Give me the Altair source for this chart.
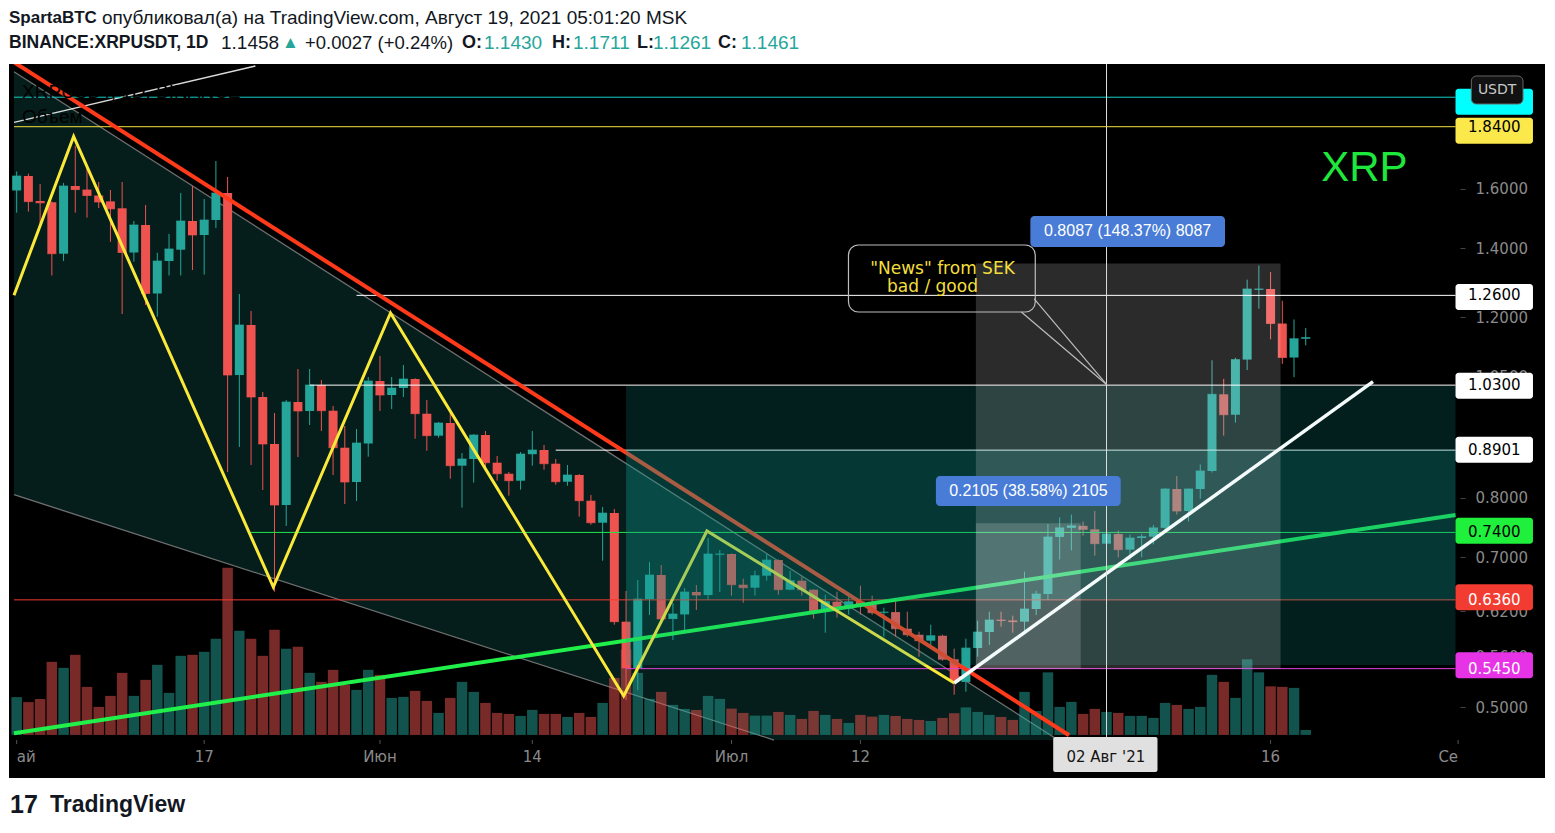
import altair as alt
import pandas as pd

# ---------------- data: BINANCE XRPUSDT 1D, day index 0 = 2021-05-01 ... 110 = 2021-08-19
opens = [
    1.5945, 1.6473, 1.5575, 1.5530, 1.3835, 1.6107, 1.5977, 1.5767, 1.5560, 1.5320,
    1.3873, 1.4757, 1.2653, 1.3610, 1.3960, 1.4890, 1.4429, 1.4923, 1.5856, 1.0537,
    1.1789, 1.0029, 0.9025, 0.7870, 0.9917, 0.9719, 1.0303, 0.9725, 0.8950, 0.8287,
    0.9035, 1.0396, 1.0074, 1.0234, 1.0443, 0.9660, 0.9195, 0.9460, 0.8596, 0.8726,
    0.9209, 0.8654, 0.8442, 0.8311, 0.8820, 0.8904, 0.8634, 0.8292, 0.8418, 0.7946,
    0.7563, 0.7729, 0.6056, 0.5458, 0.6372, 0.6725, 0.6093, 0.6155, 0.6473, 0.6429,
    0.7040, 0.7050, 0.6580, 0.6536, 0.6715, 0.6955, 0.6507, 0.6640, 0.6507, 0.6193,
    0.6334, 0.6236, 0.6334, 0.6291, 0.6179, 0.6188, 0.5961, 0.5881, 0.5803, 0.5868,
    0.5566, 0.5290, 0.5708, 0.5917, 0.6083, 0.6072, 0.6056, 0.6231, 0.6444, 0.7325,
    0.7476, 0.7510, 0.7451, 0.7215, 0.7373, 0.7119, 0.7308, 0.7329, 0.7476, 0.8158,
    0.7764, 0.8158, 0.8494, 1.0090, 0.9638, 1.0908, 1.2760, 1.2782, 1.1828, 1.0959,
    1.1430]
highs = [
    1.6644, 1.6557, 1.6179, 1.5560, 1.6219, 1.7633, 1.6745, 1.6252, 1.5963, 1.6252,
    1.4890, 1.5434, 1.3866, 1.4461, 1.5856, 1.6107, 1.5644, 1.7037, 1.6436, 1.2639,
    1.2166, 1.0142, 0.9675, 0.9962, 1.0680, 1.0680, 1.0419, 0.9829, 0.9398, 0.9334,
    1.0490, 1.0996, 1.0490, 1.0777, 1.0460, 0.9962, 0.9482, 0.9719, 0.8844, 0.9225,
    0.9292, 0.8785, 0.8475, 0.8864, 0.9292, 0.9005, 0.8726, 0.8609, 0.8437, 0.8049,
    0.7835, 0.7800, 0.6488, 0.6650, 0.6924, 0.6878, 0.6315, 0.6532, 0.6576, 0.7308,
    0.7113, 0.7060, 0.6670, 0.6790, 0.7050, 0.6965, 0.6790, 0.6699, 0.6512, 0.6434,
    0.6478, 0.6420, 0.6565, 0.6420, 0.6249, 0.6334, 0.6193, 0.5921, 0.6015, 0.5881,
    0.5700, 0.5829, 0.6069, 0.6193, 0.6193, 0.6138, 0.6775, 0.6492, 0.7541, 0.7654,
    0.7702, 0.7582, 0.7764, 0.7440, 0.7433, 0.7364, 0.7373, 0.7524, 0.8170, 0.8399,
    0.8165, 0.8619, 1.0891, 1.0445, 1.0952, 1.3054, 1.3471, 1.3281, 1.2450, 1.1936,
    1.1711]
lows = [
    1.5170, 1.5207, 1.4809, 1.3174, 1.3610, 1.5170, 1.5001, 1.5330, 1.4210, 1.2084,
    1.3589, 1.2330, 1.2011, 1.3174, 1.3174, 1.3338, 1.3198, 1.4658, 0.8475, 0.8964,
    0.8609, 0.8139, 0.6479, 0.7507, 0.8765, 0.9418, 0.9292, 0.8418, 0.7887, 0.7941,
    0.8771, 0.9719, 0.9763, 1.0029, 0.9133, 0.8890, 0.9154, 0.8349, 0.7823, 0.8274,
    0.8500, 0.8311, 0.8036, 0.8145, 0.8596, 0.8519, 0.8237, 0.8218, 0.7666, 0.7529,
    0.6944, 0.6015, 0.5079, 0.5195, 0.6147, 0.6051, 0.5812, 0.5944, 0.6217, 0.6358,
    0.6473, 0.6420, 0.6319, 0.6420, 0.6640, 0.6434, 0.6500, 0.6420, 0.6097, 0.5908,
    0.6111, 0.6152, 0.6152, 0.6152, 0.5855, 0.5855, 0.5855, 0.5598, 0.5725, 0.5548,
    0.5140, 0.5175, 0.5598, 0.5747, 0.5988, 0.5908, 0.5921, 0.6147, 0.6358, 0.6963,
    0.7107, 0.7345, 0.7023, 0.7113, 0.6996, 0.6963, 0.6996, 0.7203, 0.7433, 0.7702,
    0.7582, 0.7980, 0.8465, 0.9195, 0.9467, 1.0654, 1.2229, 1.1416, 1.0805, 1.0488,
    1.1261]
closes = [
    1.6473, 1.5552, 1.5510, 1.3835, 1.6107, 1.5977, 1.5767, 1.5538, 1.5300, 1.3873,
    1.4757, 1.2653, 1.3610, 1.3983, 1.4890, 1.4429, 1.4923, 1.5856, 1.0537, 1.1789,
    1.0029, 0.9025, 0.7870, 0.9917, 0.9719, 1.0303, 0.9725, 0.8950, 0.8287, 0.9045,
    1.0396, 1.0074, 1.0234, 1.0443, 0.9660, 0.9195, 0.9460, 0.8596, 0.8726, 0.9209,
    0.8654, 0.8442, 0.8311, 0.8824, 0.8904, 0.8634, 0.8292, 0.8418, 0.7946, 0.7563,
    0.7729, 0.6056, 0.5458, 0.6372, 0.6725, 0.6093, 0.6161, 0.6473, 0.6429, 0.7050,
    0.7050, 0.6580, 0.6536, 0.6715, 0.6955, 0.6507, 0.6640, 0.6507, 0.6193, 0.6334,
    0.6236, 0.6334, 0.6291, 0.6179, 0.6188, 0.5961, 0.5881, 0.5803, 0.5868, 0.5566,
    0.5304, 0.5708, 0.5917, 0.6079, 0.6072, 0.6056, 0.6231, 0.6444, 0.7325, 0.7476,
    0.7510, 0.7451, 0.7215, 0.7373, 0.7119, 0.7308, 0.7329, 0.7476, 0.8158, 0.7764,
    0.8158, 0.8494, 1.0090, 0.9638, 1.0908, 1.2782, 1.2782, 1.1828, 1.0959, 1.1431,
    1.1461]
volumes = [  # millions XRP
    378, 328, 359, 730, 670, 800, 480, 280, 390, 620,
    390, 550, 700, 420, 790, 800, 830, 960, 1670, 1040,
    960, 790, 1050, 860, 880, 620, 530, 650, 500, 450,
    650, 600, 370, 380, 440, 340, 220, 370, 530, 430,
    320, 220, 210, 190, 250, 210, 210, 180, 220, 180,
    320, 570, 850, 620, 360, 430, 300, 260, 250, 390,
    360, 263, 220, 193, 193, 230, 200, 160, 240, 200,
    160, 120, 200, 183, 200, 190, 160, 150, 140, 170,
    217, 275, 230, 200, 180, 150, 430, 240, 625, 280,
    330, 210, 260, 230, 220, 190, 190, 170, 320, 300,
    260, 280, 600, 530, 370, 755, 625, 485, 480, 470,
    50]
days = list(range(len(closes)))

# time-axis ticks (day index) and their visible labels (edge labels are cut in the original;
# the Aug-1 label sits under the crosshair date box)
x_tick_days = [0, 16, 31, 44, 61, 72, 92, 107, 123]
x_tick_labels = ["ай", "17", "Июн", "14", "Июл", "12", "", "16", "Се"]
y_ticks = [0.5, 0.56, 0.62, 0.7, 0.8, 1.05, 1.2, 1.4, 1.6, 1.8]

# horizontal price levels (drawn lines with price labels)
level_names = ["cyan", "yellow", "w1", "w2", "w3", "green", "red", "magenta"]
level_prices = [1.966, 1.84, 1.26, 1.03, 0.8901, 0.74, 0.636, 0.545]
level_text = ["", "1.8400", "1.2600", "1.0300", "0.8901", "0.7400", "0.6360", "0.5450"]
level_from_day = [-0.229, -0.229, 29, 25, 46, 20, -0.229, 52]

# drawings (anchored at day index / price)
wedge_top_days, wedge_top_prices = [-0.229, 88.87], [2.0820, 0.4643]
wedge_bot_days, wedge_bot_prices = [-0.229, 64.62], [0.8054, 0.4643]
chan_days, chan_top, chan_bot = [-0.229, 64.62, 88.87], [2.0820, 0.6982, 0.4643], [0.8054, 0.4643, 0.4643]
red_days, red_prices = [-0.229, 89.80], [2.1267, 0.4693]
green_days, green_prices = [-0.229, 122.78], [0.4715, 0.7695]
thin_days, thin_prices = [-0.229, 20.37], [1.8576, 2.1087]
zig_days = [-0.229, 4.86, 21.9, 31.9, 51.8, 58.9, 80.0]
zig_prices = [1.2602, 1.8001, 0.6546, 1.2111, 0.5125, 0.7424, 0.5277]
white_days, white_prices = [80.0, 115.74], [0.5277, 1.0380]
crosshair_day = 93

# ---------------- scales / helpers
TEAL, RED = "#26a69a", "#ef5350"
X_DOMAIN = [-0.229, 129.99]
Y_DOMAIN = [0.42635, 2.1182]
AXIS_END = 122.78          # day index where the price-axis panel starts
PANE_BOTTOM = 0.4643       # price at the top edge of the time-axis strip
TICK_END = 0.4602
TIME_LABEL_P = 0.4469      # price level of the time-axis label row
xs = alt.Scale(domain=X_DOMAIN, nice=False, zero=False)
ys = alt.Scale(type="log", domain=Y_DOMAIN, nice=False)


def xf(f):
    return alt.X(f"{f}:Q", scale=xs, axis=None)


def yf(f):
    return alt.Y(f"{f}:Q", scale=ys, axis=None)


def xd(v):
    return alt.X(datum=v, type="quantitative", scale=xs, axis=None)


def yd(v):
    return alt.Y(datum=v, type="quantitative", scale=ys, axis=None)


def polyline(ds, ps, color, width, opacity=1.0):
    d = pd.DataFrame({"d": ds, "p": ps, "k": list(range(len(ds)))})
    return alt.Chart(d).mark_line(color=color, strokeWidth=width, opacity=opacity, clip=True).encode(
        x=xf("d"), y=yf("p"), order="k:Q")


def box(d0, d1, p0, p1, **mk):
    d = pd.DataFrame({"d0": [d0], "d1": [d1], "p0": [p0], "p1": [p1]})
    return alt.Chart(d).mark_rect(clip=True, **mk).encode(x=xf("d0"), x2="d1:Q", y=yf("p0"), y2="p1:Q")


def label(dv, pv, text, **mk):
    d = pd.DataFrame({"d": [dv], "p": [pv], "t": [text]})
    return alt.Chart(d).mark_text(**mk).encode(x=xf("d"), y=yf("p"), text="t:N")


def ptext(text, x, y, **mk):
    d = pd.DataFrame({"t": [text]})
    return alt.Chart(d).mark_text(align="left", baseline="middle", **mk).encode(
        x=alt.value(x), y=alt.value(y), text="t:N")


df = pd.DataFrame({"d": days, "o": opens, "h": highs, "l": lows, "c": closes, "v": volumes})
df["dir"] = ["up" if c >= o else "down" for o, c in zip(opens, closes)]
dir_color = alt.Color("dir:N", scale=alt.Scale(domain=["up", "down"], range=[TEAL, RED]), legend=None)

y_axis = alt.Axis(orient="right", offset=-85, values=y_ticks, format=".4f", grid=False, domain=False,
                  tickSize=5, tickColor="#444444", labelColor="#8a8a8a", labelFont="DejaVu Sans",
                  labelFontSize=15, labelPadding=10, labelOverlap=False, title=None)

layers = []

# channel (falling wedge) fill and borders
chan = pd.DataFrame({"d": chan_days, "top": chan_top, "bot": chan_bot})
layers.append(alt.Chart(chan).mark_area(color="#051d1b", clip=True).encode(
    x=xf("d"), y=yf("top"), y2="bot:Q"))
layers.append(polyline(wedge_top_days, wedge_top_prices, "#8a8a8a", 1.3, 0.8))
layers.append(polyline(wedge_bot_days, wedge_bot_prices, "#8a8a8a", 1.3, 0.8))
layers.append(polyline(thin_days, thin_prices, "#ffffff", 1.3, 0.85))

# volume
layers.append(alt.Chart(df).mark_bar(width=10.5, opacity=0.5, clip=True).encode(
    x=xf("d"),
    y=alt.Y("v:Q", scale=alt.Scale(domain=[-430, 6700], nice=False, zero=False), axis=None, stack=None),
    y2=alt.Y2(datum=0),
    color=dir_color))

# candles
layers.append(alt.Chart(df).mark_rule(strokeWidth=1, clip=True).encode(
    x=xf("d"), y=yf("l"), y2="h:Q", color=dir_color))
layers.append(alt.Chart(df).mark_bar(width=9, clip=True).encode(
    x=xf("d"),
    y=alt.Y("o:Q", scale=ys, axis=y_axis),
    y2="c:Q", color=dir_color))
layers.append(alt.Chart(df).mark_tick(orient="horizontal", size=9, thickness=1, clip=True).encode(
    x=xf("d"), y=yf("c"), color=dir_color))

# time axis: ticks and labels
xt = pd.DataFrame({"d": x_tick_days, "t": x_tick_labels})
layers.append(alt.Chart(xt).mark_rule(color="#555555", strokeWidth=1).encode(
    x=xf("d"), y=yd(PANE_BOTTOM), y2=alt.Y2(datum=TICK_END)))
tfont = dict(font="DejaVu Sans", fontSize=15, color="#8a8a8a", baseline="middle")
mid = xt.iloc[1:-1]
mid = mid[mid["t"] != ""]
layers.append(alt.Chart(mid).mark_text(align="center", **tfont).encode(
    x=xf("d"), y=yd(TIME_LABEL_P), text="t:N"))
layers.append(alt.Chart(xt.iloc[:1]).mark_text(align="left", **tfont).encode(
    x=xf("d"), y=yd(TIME_LABEL_P), text="t:N"))
layers.append(alt.Chart(xt.iloc[-1:]).mark_text(align="right", **tfont).encode(
    x=xf("d"), y=yd(TIME_LABEL_P), text="t:N"))

# horizontal levels
lv = pd.DataFrame({"name": level_names, "p": level_prices, "x0": level_from_day, "txt": level_text})
rule_colors = ["#14cfc8", "#f5e23a", "#ffffff", "#ffffff", "#ffffff", "#22e84a", "#f23b30", "#e040e0"]
box_colors = ["#00ffff", "#fbe84a", "#ffffff", "#ffffff", "#ffffff", "#1ef03c", "#f23c32", "#e633e6"]
txt_colors = ["#000000", "#000000", "#000000", "#000000", "#000000", "#000000", "#ffffff", "#ffffff"]
layers.append(alt.Chart(lv).mark_rule(strokeWidth=1, clip=True).encode(
    x=xf("x0"), x2=alt.X2(datum=AXIS_END), y=yf("p"),
    color=alt.Color("name:N", scale=alt.Scale(domain=level_names, range=rule_colors), legend=None)))

# trend lines
layers.append(polyline(red_days, red_prices, "#ff3a1a", 4))
layers.append(polyline(green_days, green_prices, "#22f04a", 4))
layers.append(polyline(zig_days, zig_prices, "#fbe93a", 3))

# teal zone rectangles
layers.append(box(52, AXIS_END, 0.5495, 1.028, color="#0e9c92", opacity=0.2))
layers.append(box(52, AXIS_END, 0.636, 0.8901, color="#0e9c92", opacity=0.2))

# price-range measurements
layers.append(box(81.85, 107.85, 0.545, 1.3537, color="#ffffff", opacity=0.17))
layers.append(box(81.85, 90.8, 0.545, 0.7555, color="#ffffff", opacity=0.17))

layers.append(polyline(white_days, white_prices, "#f4fbfb", 3.5))

# crosshair
layers.append(alt.Chart(pd.DataFrame({"d": [crosshair_day]})).mark_rule(color="#dddddd", strokeWidth=1).encode(
    x=xf("d"), y=yd(Y_DOMAIN[1]), y2=alt.Y2(datum=0.4675)))

# callout
layers.append(box(70.98, 86.92, 1.2138, 1.4109, filled=False, color="#bdbdbd", strokeWidth=1.2, cornerRadius=10))
ptr = pd.DataFrame({"d": [86.83, 93, 85.73, 93], "p": [1.2498, 1.0315, 1.2138, 1.0315],
                    "s": ["a", "a", "b", "b"], "k": [0, 1, 0, 1]})
layers.append(alt.Chart(ptr).mark_line(color="#bdbdbd", strokeWidth=1.2).encode(
    x=xf("d"), y=yf("p"), detail="s:N", order="k:Q"))
layers.append(label(79.0, 1.3368, '"News" from SEK', font="DejaVu Sans", fontSize=17, color="#f2df3c"))
layers.append(label(78.15, 1.2839, "bad / good", font="DejaVu Sans", fontSize=17, color="#f2df3c"))

# measurement labels
layers.append(box(86.5, 103.11, 1.4045, 1.5058, color="#487cd6", cornerRadius=4))
layers.append(label(94.8, 1.4543, "0.8087 (148.37%) 8087", font="Liberation Sans", fontSize=16, color="#ffffff"))
layers.append(box(78.44, 94.21, 0.7852, 0.8399, color="#487cd6", cornerRadius=4))
layers.append(label(86.33, 0.8121, "0.2105 (38.58%) 2105", font="Liberation Sans", fontSize=16, color="#ffffff"))

# price labels on the axis
layers.append(alt.Chart(lv).mark_bar(orient="horizontal", height=26, cornerRadius=3).encode(
    x=xd(AXIS_END), x2=alt.X2(datum=129.39), y=yf("p"),
    color=alt.Color("name:N", scale=alt.Scale(domain=level_names, range=box_colors), legend=None)))
layers.append(alt.Chart(lv).mark_text(font="DejaVu Sans", fontSize=15, align="center", baseline="middle").encode(
    x=xd(126.09), y=yf("p"), text="txt:N",
    color=alt.Color("name:N", scale=alt.Scale(domain=level_names, range=txt_colors), legend=None)))

# currency button
layers.append(box(124.13, 128.54, 1.9363, 2.0619, color="#121212", stroke="#666666", strokeWidth=1, cornerRadius=5))
layers.append(label(126.33, 1.9982, "USDT", font="DejaVu Sans", fontSize=14, color="#c8c8c8"))

# crosshair date label
layers.append(box(88.45, 97.35, 0.4321, 0.4675, color="#e0e0e0", cornerRadius=2))
layers.append(label(92.94, TIME_LABEL_P, "02 Авг '21", font="DejaVu Sans", fontSize=15, color="#131313"))

# big XRP text
layers.append(label(115.0, 1.6771, "XRP", font="Liberation Sans", fontSize=42, color="#1ee83c"))

# legend overlay (black)
layers.append(ptext("XRPUSDT, 1D, BINANCE", 13, 28, font="Liberation Sans", fontSize=19, color="#000000"))
layers.append(ptext("Объем", 13, 53, font="Liberation Sans", fontSize=19, color="#000000"))

# header
HF = "Liberation Sans"
layers.append(ptext("SpartaBTC", 0, -46, font=HF, fontSize=17, fontWeight="bold", color="#131722"))
layers.append(ptext("опубликовал(а) на TradingView.com, Август 19, 2021 05:01:20 MSK", 93, -46,
                    font=HF, fontSize=19, color="#131722"))
header2 = [("BINANCE:XRPUSDT, 1D", 0, "bold", "#131722", 17.5), ("1.1458", 212, "normal", "#131722", 19),
           ("▲", 273, "normal", TEAL, 17), ("+0.0027 (+0.24%)", 296, "normal", "#131722", 18.5),
           ("O:", 453, "bold", "#131722", 18), ("1.1430", 475, "normal", TEAL, 19),
           ("H:", 543, "bold", "#131722", 18), ("1.1711", 564, "normal", TEAL, 19),
           ("L:", 628, "bold", "#131722", 18), ("1.1261", 644, "normal", TEAL, 19),
           ("C:", 709, "bold", "#131722", 18), ("1.1461", 732, "normal", TEAL, 19)]
for t, x, w, c, s in header2:
    layers.append(ptext(t, x, -21, font=HF, fontSize=s, fontWeight=w, color=c))

# footer logo
layers.append(ptext("17", 1, 741, font=HF, fontSize=25, fontWeight="bold", color="#131722"))
layers.append(ptext("TradingView", 41, 741, font=HF, fontSize=23, fontWeight="bold", color="#131722"))

chart = alt.layer(*layers).resolve_scale(y="independent", color="independent").properties(
    width=1536, height=714, background="#ffffff",
    padding={"left": 1, "top": 56, "right": 2, "bottom": 45},
    autosize=alt.AutoSizeParams(type="none"),
).configure_view(fill="#000000", stroke=None)

chart.save("out.html", embed_options={"renderer": "svg", "actions": False})
